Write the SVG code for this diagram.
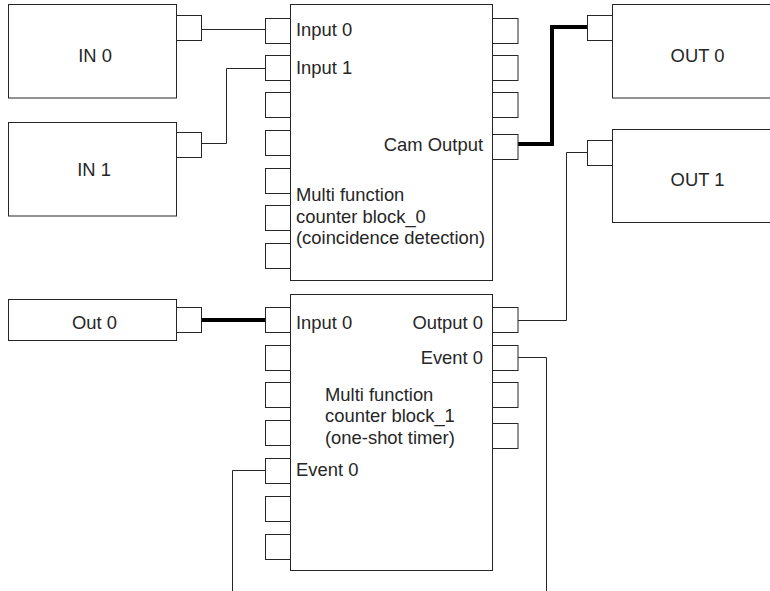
<svg xmlns="http://www.w3.org/2000/svg" width="770" height="591" viewBox="0 0 770 591">
<style>
.box{fill:#fff;stroke:#262626;stroke-width:1}
.port{fill:#fff;stroke:#262626;stroke-width:1}
.w{fill:none;stroke:#262626;stroke-width:1}
.thick{fill:none;stroke:#000;stroke-width:4}
text{font-family:"Liberation Sans",Arial,sans-serif;font-size:18.4px;fill:#262626}
.m{text-anchor:middle}
.e{text-anchor:end}
</style>
<rect width="770" height="591" fill="#fff"/>
<g id="connectors">
<path class="w" d="M202,29.5H265.5"/>
<path class="w" d="M202,143.5H226.5V68.5H265.5"/>
<path class="thick" d="M518,144H552V27H587.5"/>
<path class="thick" d="M202,320H265.5"/>
<path class="w" d="M518,320.5H566.5V152.5H587.5"/>
<path class="w" d="M518,357.5H546.5V591"/>
<path class="w" d="M265,470.5H232.5V591"/>
</g>
<g id="in0">
<rect class="box" x="8.5" y="4.5" width="168" height="93.5"/>
<rect class="port" x="176.5" y="15.5" width="25" height="25"/>
<text class="m" x="95" y="62">IN 0</text>
</g>
<g id="in1">
<rect class="box" x="8.5" y="122.5" width="168" height="93.5"/>
<rect class="port" x="176.5" y="132.5" width="25" height="25"/>
<text class="m" x="94" y="175.5">IN 1</text>
</g>
<g id="out0src">
<rect class="box" x="8.5" y="299.5" width="168" height="41"/>
<rect class="port" x="176.5" y="307.5" width="25" height="25"/>
<text class="m" x="94.5" y="328.5">Out 0</text>
</g>
<g id="outA">
<rect class="box" x="612.5" y="4.5" width="170" height="93.5"/>
<rect class="port" x="587.5" y="15.5" width="25" height="25"/>
<text class="m" x="697.5" y="62">OUT 0</text>
</g>
<g id="outB">
<rect class="box" x="612.5" y="129.5" width="170" height="93"/>
<rect class="port" x="587.5" y="140.5" width="25" height="25"/>
<text class="m" x="697.5" y="186">OUT 1</text>
</g>
<g id="block0">
<rect class="box" x="290.5" y="4.5" width="202" height="276"/>
<rect class="port" x="265.5" y="18.5" width="25" height="25"/>
<rect class="port" x="265.5" y="55.5" width="25" height="25"/>
<rect class="port" x="265.5" y="92.5" width="25" height="25"/>
<rect class="port" x="265.5" y="130.5" width="25" height="25"/>
<rect class="port" x="265.5" y="168.5" width="25" height="25"/>
<rect class="port" x="265.5" y="205.5" width="25" height="25"/>
<rect class="port" x="265.5" y="243.5" width="25" height="25"/>
<rect class="port" x="492.5" y="18.5" width="25.5" height="25"/>
<rect class="port" x="492.5" y="55.5" width="25.5" height="25"/>
<rect class="port" x="492.5" y="92.5" width="25.5" height="25"/>
<rect class="port" x="492.5" y="134.5" width="25.5" height="25"/>
<text x="296" y="36">Input 0</text>
<text x="296" y="74">Input 1</text>
<text class="e" x="483" y="151">Cam Output</text>
<text x="296" y="201">Multi function</text>
<text x="296" y="222.5">counter block_0</text>
<text x="296" y="244">(coincidence detection)</text>
</g>
<g id="block1">
<rect class="box" x="290.5" y="294.5" width="202" height="276"/>
<rect class="port" x="265.5" y="307.5" width="25" height="25"/>
<rect class="port" x="265.5" y="345.5" width="25" height="25"/>
<rect class="port" x="265.5" y="382.5" width="25" height="25"/>
<rect class="port" x="265.5" y="420.5" width="25" height="25"/>
<rect class="port" x="265.5" y="458.5" width="25" height="25"/>
<rect class="port" x="265.5" y="496.5" width="25" height="25"/>
<rect class="port" x="265.5" y="534.5" width="25" height="25"/>
<rect class="port" x="492.5" y="307.5" width="25.5" height="25"/>
<rect class="port" x="492.5" y="345.5" width="25.5" height="25"/>
<rect class="port" x="492.5" y="382.5" width="25.5" height="25"/>
<rect class="port" x="492.5" y="423.5" width="25.5" height="25"/>
<text x="296" y="328.5">Input 0</text>
<text class="e" x="483" y="328.5">Output 0</text>
<text class="e" x="483" y="363.5">Event 0</text>
<text x="325" y="400.5">Multi function</text>
<text x="325" y="422">counter block_1</text>
<text x="325" y="443.5">(one-shot timer)</text>
<text x="296" y="476">Event 0</text>
</g>
</svg>
